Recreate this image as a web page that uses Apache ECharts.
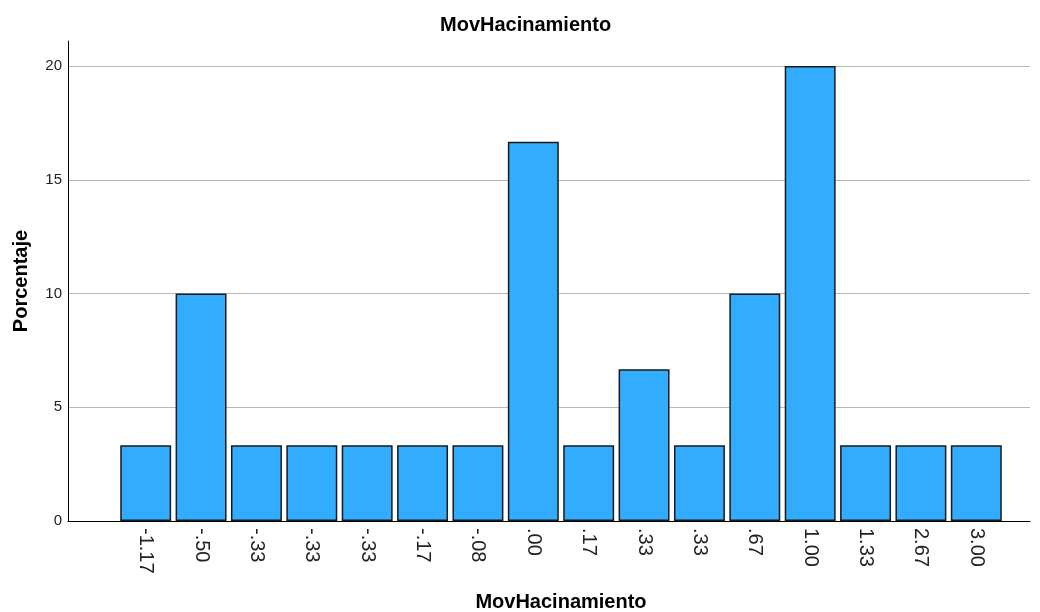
<!DOCTYPE html>
<html>
<head>
<meta charset="utf-8">
<script src="https://cdn.jsdelivr.net/npm/echarts@6/dist/echarts.min.js"></script>
<style>html,body{margin:0;padding:0;background:#fff;}#c{width:1040px;height:612px;}</style>
</head>
<body>
<div id="c"></div>
<script>
var categories = ['-1.17','-.50','-.33','-.33','-.33','-.17','-.08','.00','.17','.33','.33','.67','1.00','1.33','2.67','3.00'];
var percentages = [3.33,10,3.33,3.33,3.33,3.33,3.33,16.67,3.33,6.67,3.33,10,20,3.33,3.33,3.33];
var yTicks = [0,5,10,15,20];

var chart = echarts.init(document.getElementById('c'));
var font = '"Liberation Sans", Arial, sans-serif';
chart.setOption({
  animation: false,
  backgroundColor: '#ffffff',
  title: {
    text: 'MovHacinamiento',
    left: 435, top: 10,
    textStyle: {fontFamily: font, fontSize: 20, fontWeight: 'bold', color: '#000'}
  },
  grid: [
    {left: 68, right: 10, top: 41, bottom: 91, containLabel: false, outerBoundsMode: 'none'},
    {left: 118, right: 36, top: 41, bottom: 91, containLabel: false, outerBoundsMode: 'none'}
  ],
  xAxis: [
    {type: 'category', gridIndex: 0, data: [''], axisLine: {lineStyle: {color: '#000', width: 1}},
     axisTick: {show: false}, axisLabel: {show: false}, splitLine: {show: false}, z: 5},
    {type: 'category', gridIndex: 1, data: categories,
     axisLine: {show: false}, axisTick: {show: false},
     axisLabel: {rotate: -90, margin: 7, fontFamily: font, fontSize: 20, color: '#222'},
     name: 'MovHacinamiento', nameLocation: 'middle', nameGap: 71,
     nameTextStyle: {fontFamily: font, fontSize: 20, fontWeight: 'bold', color: '#000'}}
  ],
  yAxis: [
    {type: 'value', gridIndex: 0, min: 0, max: 21.1, interval: 5,
     axisLine: {show: true, lineStyle: {color: '#000', width: 1}}, axisTick: {show: false},
     axisLabel: {fontFamily: font, fontSize: 15, color: '#222', margin: 6, showMaxLabel: false,
       formatter: function(v){ return yTicks.indexOf(v) >= 0 ? String(v) : ''; }},
     splitLine: {show: true, lineStyle: {color: ['#b8b8b8','#b8b8b8','#b8b8b8','#b8b8b8','#b8b8b8','rgba(0,0,0,0)'], width: 1}},
     name: 'Porcentaje', nameLocation: 'middle', nameGap: 37,
     nameTextStyle: {fontFamily: font, fontSize: 20, fontWeight: 'bold', color: '#000'}},
    {type: 'value', gridIndex: 1, min: 0, max: 21.1, interval: 5, show: false, splitLine: {show: false}}
  ],
  series: [{
    type: 'bar', xAxisIndex: 1, yAxisIndex: 1, data: percentages,
    barCategoryGap: '8%',
    itemStyle: {color: '#31acfe', borderColor: '#1a1a1a', borderWidth: 1.5}
  }]
});
</script>
</body>
</html>
